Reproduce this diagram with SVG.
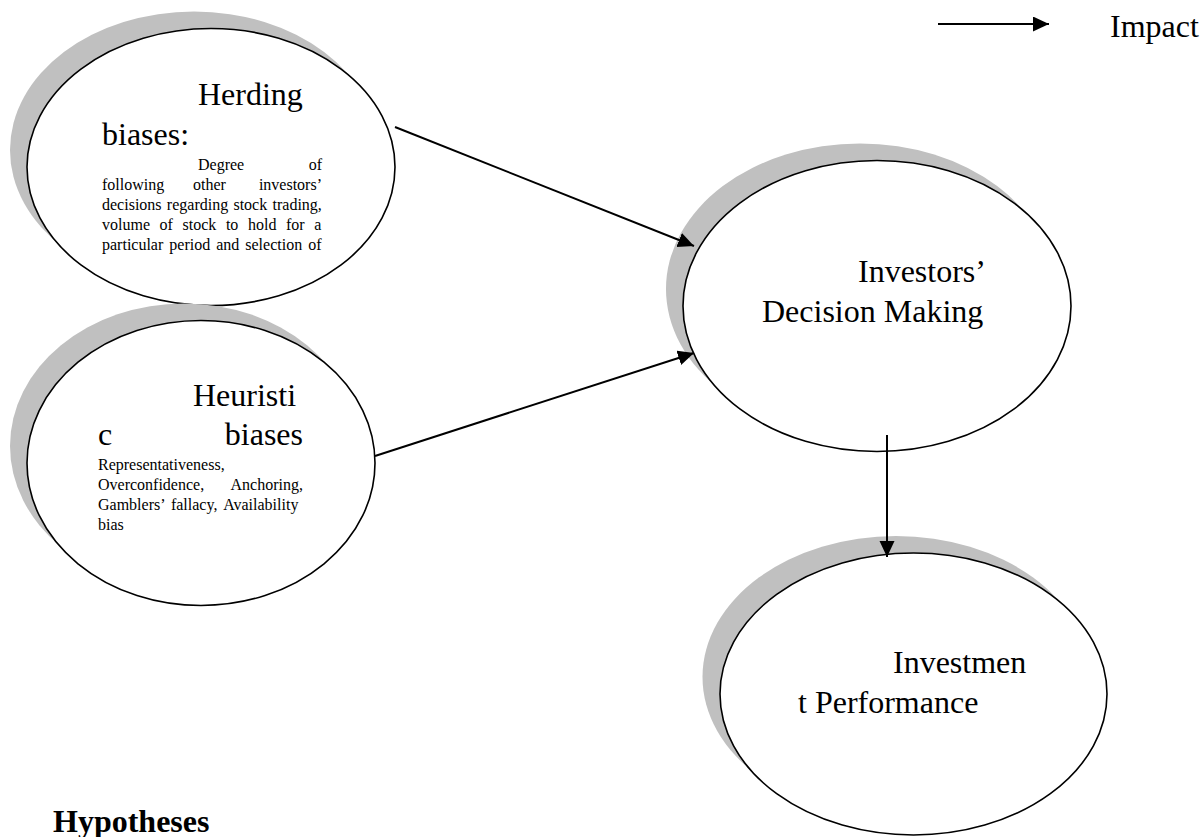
<svg xmlns="http://www.w3.org/2000/svg" width="1201" height="837" viewBox="0 0 1201 837">
<style>
.shadow{fill:#c0c0c0;stroke:none}
.node{fill:#fff;stroke:#000;stroke-width:1.6}
.big{font-family:"Liberation Serif","Times New Roman",serif;font-size:32px;fill:#000}
.small{font-family:"Liberation Serif","Times New Roman",serif;font-size:16px;fill:#000}
.bold{font-family:"Liberation Serif","Times New Roman",serif;font-size:32px;font-weight:bold;fill:#000}
.conn{stroke:#000;stroke-width:2;fill:none;marker-end:url(#ah)}
</style>
<defs>
<marker id="ah" markerUnits="userSpaceOnUse" markerWidth="18" markerHeight="16" refX="16" refY="7.5" orient="auto">
<path d="M0,0 L16,7.5 L0,15 z" fill="#000"/>
</marker>
</defs>
<rect width="1201" height="837" fill="#fff"/>

<g id="herding">
<ellipse class="shadow" cx="194" cy="150" rx="184" ry="138.5"/>
<ellipse class="node" cx="211" cy="167" rx="184" ry="138.5"/>
<text class="big" x="198" y="105">Herding</text>
<text class="big" x="102" y="145">biases:</text>
<text class="small" x="198" y="170">Degree</text>
<text class="small" x="322" y="170" text-anchor="end">of</text>
<text class="small" x="102" y="190">following</text>
<text class="small" x="193" y="190">other</text>
<text class="small" x="322" y="190" text-anchor="end">investors’</text>
<text class="small" x="102" y="210" word-spacing="1.3">decisions regarding stock trading,</text>
<text class="small" x="102" y="230" word-spacing="5.6">volume of stock to hold for a</text>
<text class="small" x="102" y="250" word-spacing="2">particular period and selection of</text>
</g>

<g id="heuristic">
<ellipse class="shadow" cx="184" cy="446" rx="174" ry="142.5"/>
<ellipse class="node" cx="201" cy="463" rx="174" ry="142.5"/>
<text class="big" x="193" y="406">Heuristi</text>
<text class="big" x="98" y="445">c</text>
<text class="big" x="303" y="445" text-anchor="end">biases</text>
<text class="small" x="98" y="470">Representativeness,</text>
<text class="small" x="98" y="490">Overconfidence,</text>
<text class="small" x="303" y="490" text-anchor="end">Anchoring,</text>
<text class="small" x="98" y="510" word-spacing="2.6">Gamblers’ fallacy, Availability</text>
<text class="small" x="98" y="530">bias</text>
</g>

<g id="decision">
<ellipse class="shadow" cx="860" cy="289" rx="194" ry="145.5"/>
<ellipse class="node" cx="877" cy="306" rx="194" ry="145.5"/>
<text class="big" x="858" y="282">Investors’</text>
<text class="big" x="762" y="322">Decision Making</text>
</g>

<g id="performance">
<ellipse class="shadow" cx="896" cy="677" rx="193.5" ry="141"/>
<ellipse class="node" cx="913.5" cy="694" rx="193.5" ry="141"/>
<text class="big" x="893" y="673">Investmen</text>
<text class="big" x="798" y="713">t Performance</text>
</g>

<g id="legend">
<line class="conn" x1="938" y1="24" x2="1049" y2="24"/>
<text class="big" x="1110" y="37">Impact</text>
</g>

<g id="connectors">
<line class="conn" x1="395" y1="127" x2="694" y2="246"/>
<line class="conn" x1="375" y1="456" x2="694" y2="353"/>
<line class="conn" x1="887" y1="435" x2="887" y2="557"/>
</g>

<text class="bold" x="53" y="832">Hypotheses</text>
</svg>
